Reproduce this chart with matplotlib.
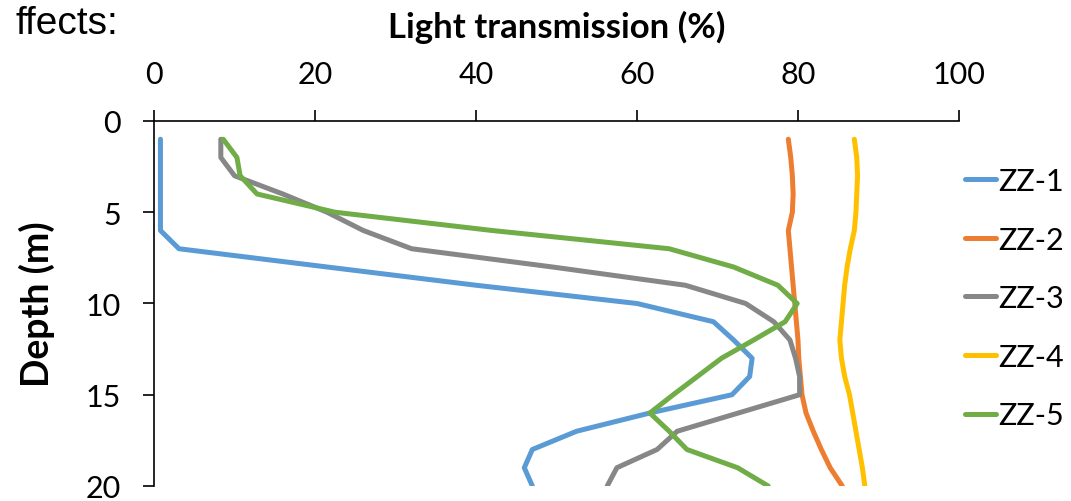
import matplotlib
matplotlib.use("Agg")
import matplotlib.pyplot as plt

# depth of each reading (m)
depth = [1, 2, 3, 4, 5, 6, 7, 8, 9, 10, 11, 12, 13, 14, 15, 16, 17, 18, 19, 20]

# light transmission (%) at each depth, one list per station
zz1 = [0.8, 0.8, 0.8, 0.8, 0.8, 0.8, 3.1, 21.5, 40, 60, 69.5, 72, 74.3, 74, 71.8, 61.6, 52.5, 47, 46, 47]
zz2 = [78.8, 79.1, 79.3, 79.4, 79.3, 78.8, 79, 79.2, 79.4, 79.6, 79.8, 80, 80.1, 80.3, 80.5, 81, 81.9, 82.9, 84, 85.5]
zz3 = [8.3, 8.3, 10, 16, 21.5, 26, 32, 49.5, 66, 73.5, 77, 79, 79.7, 80.2, 80.2, 72.6, 65, 62.5, 57.5, 56.3]
zz4 = [87, 87.3, 87.4, 87.3, 87.2, 87, 86.5, 86.1, 85.8, 85.6, 85.4, 85.2, 85.4, 85.8, 86.4, 86.8, 87.2, 87.6, 88, 88.3]
zz5 = [8.6, 10.3, 10.7, 12.8, 22.5, 42, 64, 72, 77.5, 79.9, 78.4, 74.5, 70.5, 67.5, 64.5, 61.6, 64, 66.2, 72.5, 76.3]

series = [("ZZ-1", zz1), ("ZZ-2", zz2), ("ZZ-3", zz3), ("ZZ-4", zz4), ("ZZ-5", zz5)]
colors = ["#5B9BD5", "#ED7D31", "#878787", "#FFC000", "#70AD47"]

x_ticks = [0, 20, 40, 60, 80, 100]
y_ticks = [0, 5, 10, 15, 20]

plt.rcParams["font.family"] = ["Lato", "DejaVu Sans"]

fig = plt.figure(figsize=(10.71, 5.02), dpi=100)
ax = fig.add_axes([0.1438, 0.0299, 0.7516, 0.7271])

for (name, vals), c in zip(series, colors):
    ax.plot(vals, depth, color=c, linewidth=3.6, label=name,
            solid_capstyle="round", solid_joinstyle="round")

# axes: x on top, depth increasing downward
ax.set_xlim(0, 100)
ax.set_ylim(20, 0)
ax.set_xticks(x_ticks)
ax.set_yticks(y_ticks)
ax.xaxis.tick_top()
ax.xaxis.set_label_position("top")
ax.spines["right"].set_visible(False)
ax.spines["bottom"].set_visible(False)
for s in ("top", "left"):
    ax.spines[s].set_linewidth(1.2)
ax.tick_params(direction="out", length=8, width=1.2, pad=16, labelsize=22)

ax.set_xlabel("Light transmission (%)", fontsize=25, fontweight="bold", labelpad=16)
ax.set_ylabel("Depth (m)", fontsize=27, fontweight="bold", labelpad=22)

fig.legend(loc="center left", bbox_to_anchor=(0.901, 0.404), frameon=False,
           fontsize=22, handlelength=1.0, handletextpad=0.1,
           labelspacing=1.0, borderpad=0, borderaxespad=0)

# leftover slide text in the top-left corner
fig.text(118 / 1071, 1 - 34 / 502, "ffects:", ha="right", va="baseline",
         fontsize=28, family=["Liberation Sans", "DejaVu Sans"])

fig.savefig("out.png", dpi=100)
